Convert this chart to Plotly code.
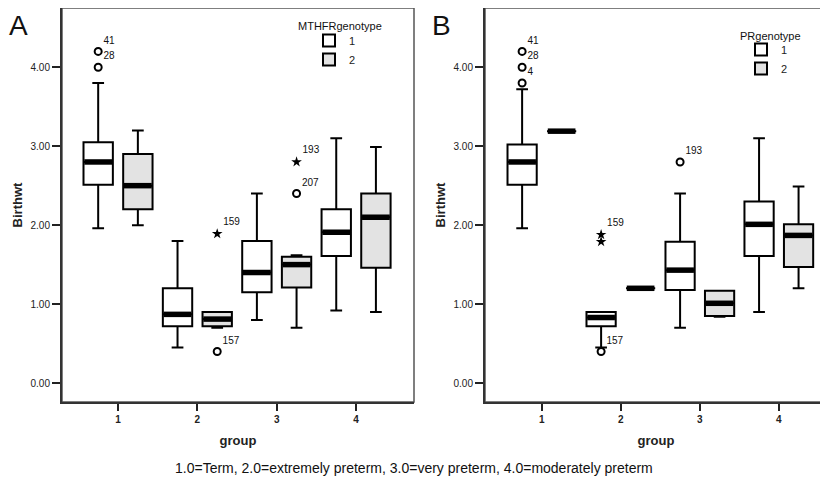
import plotly.graph_objects as go

# ---------------- data ----------------
groups = [1, 2, 3, 4]
group_tick_labels = ["1", "2", "3", "4"]

# Panel A: MTHFR genotype 1 (white boxes)
A_g1_lower = [1.96, 0.45, 0.80, 0.92]
A_g1_q1 = [2.51, 0.72, 1.15, 1.61]
A_g1_median = [2.80, 0.87, 1.40, 1.91]
A_g1_q3 = [3.05, 1.20, 1.80, 2.20]
A_g1_upper = [3.80, 1.80, 2.40, 3.10]

# Panel A: MTHFR genotype 2 (grey boxes)
A_g2_lower = [2.00, 0.70, 0.70, 0.90]
A_g2_q1 = [2.20, 0.72, 1.21, 1.46]
A_g2_median = [2.50, 0.81, 1.50, 2.10]
A_g2_q3 = [2.90, 0.90, 1.60, 2.40]
A_g2_upper = [3.20, 0.90, 1.62, 2.99]

# Panel A outliers
A_circ_group = [1, 1, 2, 3]
A_circ_geno = [1, 1, 2, 2]
A_circ_value = [4.20, 4.00, 0.40, 2.40]
A_circ_label = ["41", "28", "157", "207"]
A_star_group = [2, 3]
A_star_geno = [2, 2]
A_star_value = [1.89, 2.80]
A_star_label = ["159", "193"]

# Panel B: PR genotype 1 (white boxes)
B_g1_lower = [1.96, 0.45, 0.70, 0.90]
B_g1_q1 = [2.51, 0.72, 1.18, 1.61]
B_g1_median = [2.80, 0.83, 1.43, 2.01]
B_g1_q3 = [3.02, 0.90, 1.79, 2.30]
B_g1_upper = [3.72, 0.90, 2.40, 3.10]

# Panel B: PR genotype 2 (grey boxes)
B_g2_lower = [3.19, 1.20, 0.84, 1.20]
B_g2_q1 = [3.19, 1.20, 0.85, 1.47]
B_g2_median = [3.19, 1.20, 1.01, 1.87]
B_g2_q3 = [3.19, 1.20, 1.17, 2.01]
B_g2_upper = [3.19, 1.20, 1.17, 2.49]

# Panel B outliers
B_circ_group = [1, 1, 1, 2, 3]
B_circ_geno = [1, 1, 1, 1, 1]
B_circ_value = [4.20, 4.00, 3.80, 0.40, 2.80]
B_circ_label = ["41", "28", "4", "157", "193"]
B_star_group = [2, 2]
B_star_geno = [1, 1]
B_star_value = [1.88, 1.79]
B_star_label = ["159", ""]

y_tick_values = [0, 1, 2, 3, 4]
y_tick_labels = ["0.00", "1.00", "2.00", "3.00", "4.00"]
caption = "1.0=Term, 2.0=extremely preterm, 3.0=very preterm, 4.0=moderately preterm"

# ---------------- styling ----------------
FONT = "Arial, Liberation Sans, Helvetica, sans-serif"
OFFSET = {1: -0.25, 2: 0.25}
BOX_W = 0.37
FILL = {1: "white", 2: "#e3e3e3"}
W, H = 828, 487
PAGE = 8  # default page body margin of the html page


def px(xp):
    return (xp - PAGE) / W


def py(yp):
    return 1 - (yp - PAGE) / H


fig = go.Figure()


def pos(gs, geno):
    return [g + OFFSET[geno] for g in gs]


def add_panel(xa, ya, legend, stats, circ, star):
    for geno, (lo, q1, med, q3, up) in stats.items():
        xs = pos(groups, geno)
        fig.add_trace(go.Box(
            x=xs, q1=q1, median=med, q3=q3, lowerfence=lo, upperfence=up,
            width=BOX_W, whiskerwidth=0.4, boxpoints=False,
            fillcolor=FILL[geno], line=dict(color="black", width=2),
            name=str(geno), legend=legend, xaxis=xa, yaxis=ya,
            hoverinfo="skip"))
        mx, my = [], []
        for x, m in zip(xs, med):
            mx += [x - BOX_W / 2 + 0.01, x + BOX_W / 2 - 0.01, None]
            my += [m, m, None]
        fig.add_trace(go.Scatter(
            x=mx, y=my, mode="lines", line=dict(color="black", width=5.5),
            showlegend=False, xaxis=xa, yaxis=ya, hoverinfo="skip"))
    cg, cgeno, cv, cl = circ
    fig.add_trace(go.Scatter(
        x=[g + OFFSET[k] for g, k in zip(cg, cgeno)], y=cv, text=cl,
        mode="markers+text", textposition="top right",
        textfont=dict(family=FONT, size=10, color="#111"),
        marker=dict(symbol="circle-open", size=7, color="black",
                    line=dict(width=2, color="black")),
        showlegend=False, xaxis=xa, yaxis=ya, hoverinfo="skip", cliponaxis=False))
    sg, sgeno, sv, sl = star
    fig.add_trace(go.Scatter(
        x=[g + OFFSET[k] for g, k in zip(sg, sgeno)], y=sv, text=sl,
        mode="markers+text", textposition="top right",
        textfont=dict(family=FONT, size=10, color="#111"),
        marker=dict(symbol="star", size=8, color="black", line=dict(width=0)),
        showlegend=False, xaxis=xa, yaxis=ya, hoverinfo="skip", cliponaxis=False))


add_panel("x", "y", "legend",
          {1: (A_g1_lower, A_g1_q1, A_g1_median, A_g1_q3, A_g1_upper),
           2: (A_g2_lower, A_g2_q1, A_g2_median, A_g2_q3, A_g2_upper)},
          (A_circ_group, A_circ_geno, A_circ_value, A_circ_label),
          (A_star_group, A_star_geno, A_star_value, A_star_label))
add_panel("x2", "y2", "legend2",
          {1: (B_g1_lower, B_g1_q1, B_g1_median, B_g1_q3, B_g1_upper),
           2: (B_g2_lower, B_g2_q1, B_g2_median, B_g2_q3, B_g2_upper)},
          (B_circ_group, B_circ_geno, B_circ_value, B_circ_label),
          (B_star_group, B_star_geno, B_star_value, B_star_label))

ydom = [py(402), py(8)]
common_x = dict(
    tickmode="array", tickvals=groups, ticktext=group_tick_labels,
    ticks="outside", ticklen=7, tickwidth=2, tickcolor="#222",
    showline=True, linecolor="#333", linewidth=2, showgrid=False, zeroline=False,
    tickfont=dict(family=FONT, size=10, color="#222", weight="bold"),
    title=dict(text="group", font=dict(family=FONT, size=13, color="#222", weight="bold"),
               standoff=12),
)
common_y = dict(
    range=[-0.24, 4.75], tickmode="array", tickvals=y_tick_values, ticktext=y_tick_labels,
    ticks="outside", ticklen=8, tickwidth=2, tickcolor="#222",
    showline=True, linecolor="#333", linewidth=2, showgrid=False, zeroline=False,
    tickfont=dict(family=FONT, size=10, color="#222"),
    title=dict(text="Birthwt", font=dict(family=FONT, size=13, color="#222", weight="bold"),
               standoff=5),
    domain=ydom,
)

fig.update_layout(
    width=W, height=H, margin=dict(l=0, r=0, t=0, b=0),
    paper_bgcolor="white", plot_bgcolor="white", boxmode="overlay",
    font=dict(family=FONT, color="#222"),
    xaxis=dict(domain=[px(62), px(414)], range=[0.294, 4.73], anchor="y", **common_x),
    xaxis2=dict(domain=[px(485), px(827)], range=[0.28, 4.61], anchor="y2", **common_x),
    yaxis=dict(anchor="x", **common_y),
    yaxis2=dict(anchor="x2", **common_y),
    legend=dict(x=px(309), y=py(26), xanchor="left", yanchor="top",
                bgcolor="rgba(0,0,0,0)", borderwidth=0,
                font=dict(family=FONT, size=11, color="#222"), itemwidth=30,
                tracegroupgap=0),
    legend2=dict(x=px(741), y=py(35), xanchor="left", yanchor="top",
                 bgcolor="rgba(0,0,0,0)", borderwidth=0,
                 font=dict(family=FONT, size=11, color="#222"), itemwidth=30,
                 tracegroupgap=0),
    showlegend=True,
)

for xr, yr in (("x domain", "y domain"), ("x2 domain", "y2 domain")):
    fig.add_shape(type="rect", xref=xr, yref=yr, x0=0, x1=1, y0=0, y1=1,
                  line=dict(color="#555", width=1.5), layer="below")

letters = [
    dict(text="A", x=px(18)),
    dict(text="B", x=px(441)),
]
for a in letters:
    fig.add_annotation(text=a["text"], x=a["x"], y=py(8), xref="paper", yref="paper",
                       xanchor="center", yanchor="top", showarrow=False,
                       font=dict(family=FONT, size=28, color="#111"))

ann = [
    dict(text="MTHFRgenotype", x=px(340), y=py(26), size=11),
    dict(text="PRgenotype", x=px(770), y=py(36), size=11),
    dict(text=caption, x=px(414), y=py(468), size=14),
]
for a in ann:
    fig.add_annotation(text=a["text"], x=a["x"], y=a["y"], xref="paper", yref="paper",
                       xanchor="center", yanchor="middle", showarrow=False,
                       font=dict(family=FONT, size=a["size"], color="#111"))

fig.write_html("out.html")
